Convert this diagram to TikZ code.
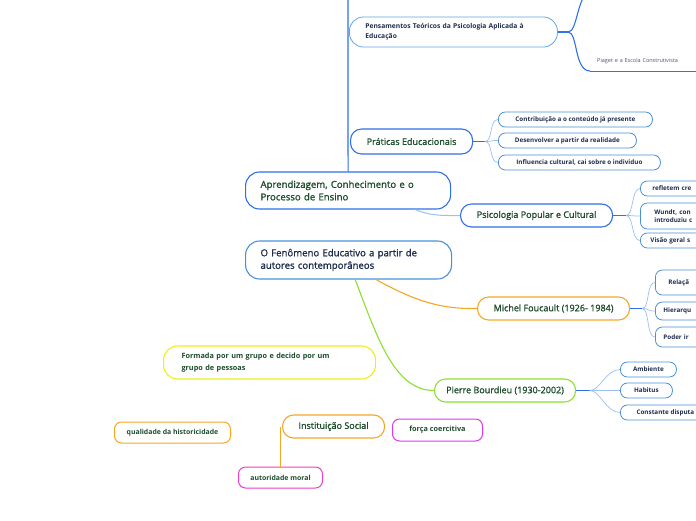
\documentclass[tikz,border=0pt]{standalone}
\usepackage{fontspec}
\setmainfont{Open Sans}
\newfontfamily\semibf{Open Sans}[FakeBold=1.3]
\usepackage{tikz}
\usetikzlibrary{positioning,calc}
\definecolor{mainblue}{HTML}{2F6FE8}
\definecolor{leafblue}{HTML}{4A90D9}
\definecolor{paleblue}{HTML}{9CBFF2}
\definecolor{skyblue}{HTML}{5DA5E0}
\definecolor{mapgreen}{HTML}{1D4D2B}
\definecolor{mapnavy}{HTML}{1F2D4D}
\definecolor{maporange}{HTML}{F5A623}
\definecolor{maplime}{HTML}{8BE02E}
\definecolor{mapyellow}{HTML}{EEEE1C}
\definecolor{mapviolet}{HTML}{D63AE8}
\definecolor{mappink}{HTML}{F03CC8}

\begin{document}
\begin{tikzpicture}[x=1pt,y=-1pt,
    big/.style={draw=mainblue, line width=1.1pt, rounded corners=14pt, minimum height=37pt, align=left, inner xsep=15pt, text=mapgreen, font=\semibf\fontsize{9.6}{12.5}\selectfont, anchor=west},
    topic/.style={draw=mainblue, line width=1.1pt, rounded corners=11pt, minimum height=23pt, align=center, text=mapgreen, font=\semibf\fontsize{9}{10}\selectfont, anchor=west},
    leaf/.style={draw=leafblue, line width=0.8pt, rounded corners=7pt, minimum height=15pt, align=left, inner xsep=10pt, text=mapnavy, font=\bfseries\fontsize{6.3}{8}\selectfont, anchor=west},
    low/.style={leaf, line width=1pt, text=mapgreen, align=center, font=\bfseries\fontsize{6.9}{8}\selectfont},
    stub/.style={draw=mainblue, line width=1.1pt},
    twig/.style={draw=paleblue, line width=0.7pt},
    line/.style={line width=1.1pt}
]
\useasboundingbox (0,0) rectangle (696,520);

% upper branch
\node[big, draw=skyblue, line width=0.8pt, text=mapnavy, text width=176pt, inner xsep=16pt, minimum height=30pt, font=\bfseries\fontsize{6.7}{10}\selectfont] (pens) at (349,32) {Pensamentos Teóricos da Psicologia Aplicada à\\Educação};
\node[anchor=south west, inner sep=0pt, text=mapnavy!80, font=\fontsize{5.5}{7}\selectfont, text width=106pt, align=left] (piaget) at (590,71) {\hspace*{7pt}Piaget e a Escola Construtivista\\[-1pt]\strut};
\draw[line width=0.9pt, mainblue] (piaget.south west) -- (piaget.south east);
\coordinate (pensjoin) at (568,32);
\coordinate (pensup) at (592,-12);
\draw[stub] (pens.east) -- (pensjoin);
\draw[line, mainblue] (pensjoin) .. controls (578,32) and (576,-4) .. (pensup);
\draw[line, mainblue] (pensjoin) .. controls (578,32) and (574,71) .. (piaget.south west);

\node[topic, minimum width=122pt, minimum height=25pt] (prat) at (350,141.5) {Práticas Educacionais};
\node[leaf, minimum width=154pt] (contrib) at (498,119.5) {Contribuição a o conteúdo já presente};
\node[leaf, minimum width=138pt] (desenv) at (498,140.5) {Desenvolver a partir da realidade};
\node[leaf, minimum width=162pt] (influ) at (498,162.5) {Influencia cultural, cai sobre o individuo};
\coordinate (pratjoin) at (485,141.5);
\draw[stub] (prat.east) -- (pratjoin);
\foreach \kid in {contrib,desenv,influ}
    \draw[twig] (pratjoin) .. controls (493,141.5) and (489,0 |- \kid.west) .. (\kid.west);

% central topics
\node[big, text width=175pt, minimum height=37pt] (apr) at (245,190.5) {Aprendizagem, Conhecimento e o\\Processo de Ensino};
\coordinate (aprtop) at (348,-4);
\draw[line, mainblue] (aprtop) -- (apr.north);

\node[topic, minimum width=152pt] (psico) at (460,215.5) {Psicologia Popular e Cultural};
\draw[twig, line width=1pt] ($(apr.south)!0.65!(apr.south east)$) .. controls (432,216) and (440,215.5) .. (psico.west);
\node[leaf, text width=60pt, inner xsep=12pt] (refl) at (640,188.5) {refletem cre};
\node[leaf, text width=60pt, inner xsep=14pt, minimum height=26pt, font=\bfseries\fontsize{6.3}{8.5}\selectfont] (wundt) at (640,216) {Wundt, con\\introduziu c};
\node[leaf, text width=60pt] (visao) at (640,240.5) {Visão geral s};
\coordinate (psicojoin) at (626,215.5);
\draw[stub] (psico.east) -- (psicojoin);
\foreach \kid in {refl,wundt,visao}
    \draw[twig] (psicojoin) .. controls (634,215.5) and (631,0 |- \kid.west) .. (\kid.west);

\node[big, draw=leafblue, text=mapnavy, text width=176pt, minimum height=38pt] (fen) at (245,260) {O Fenômeno Educativo a partir de\\autores contemporâneos};

\node[topic, draw=maporange, minimum width=152pt] (fouc) at (477,308.5) {Michel Foucault (1926- 1984)};
\draw[line, maporange] (375,279) .. controls (420,304) and (445,309) .. (fouc.west);
\node[leaf, text width=60pt, inner xsep=13pt, minimum height=25pt] (relac) at (655,282.5) {Relaçã};
\node[leaf, text width=60pt, inner xsep=8pt, minimum height=18pt] (hier) at (655,311) {Hierarqu};
\node[leaf, text width=60pt, inner xsep=8pt, minimum height=20pt] (poder) at (655,337) {Poder ir};
\coordinate (foucjoin) at (642,308.5);
\draw[stub] (fouc.east) -- (foucjoin);
\foreach \kid in {relac,hier,poder}
    \draw[twig] (foucjoin) .. controls (650,308.5) and (646,0 |- \kid.west) .. (\kid.west);

\node[topic, draw=maplime, minimum width=141pt] (bourd) at (434,390.5) {Pierre Bourdieu (1930-2002)};
\draw[line, maplime] (355,279) .. controls (378,340) and (395,390.5) .. (bourd.west);
\node[leaf, minimum width=56pt, inner xsep=9pt] (amb) at (620,369.5) {Ambiente};
\node[leaf, minimum width=52pt, inner xsep=9pt] (hab) at (620,390.5) {Habitus};
\node[leaf, minimum width=90pt, inner xsep=9pt] (const) at (620,412.5) {Constante disputa};
\coordinate (bourdjoin) at (590,390.5);
\draw[stub] (bourd.east) -- (bourdjoin);
\foreach \kid in {amb,hab,const}
    \draw[twig] (bourdjoin) .. controls (600,390.5) and (606,0 |- \kid.west) .. (\kid.west);

% lower loose topics
\node[big, draw=mapyellow, text width=176pt, inner xsep=18pt, minimum height=33pt, font=\bfseries\fontsize{7.3}{12}\selectfont] (form) at (163,362.5) {Formada por um grupo e decido por um\\grupo de pessoas};
\node[topic, draw=maporange, minimum width=102pt] (inst) at (282,426.5) {Instituição Social};
\node[low, draw=mapviolet, minimum width=90pt, minimum height=22pt, font=\bfseries\fontsize{7.3}{8}\selectfont] (forca) at (392,430) {força coercitiva};
\node[low, draw=maporange, minimum width=116pt, minimum height=21pt] (qual) at (114,432.5) {qualidade da historicidade};
\node[low, draw=mappink, minimum width=84pt, minimum height=21pt] (auto) at (238,477.5) {autoridade moral};
\draw[line, maporange] (auto.north) -- (auto.north |- inst.west);
\end{tikzpicture}
\end{document}
